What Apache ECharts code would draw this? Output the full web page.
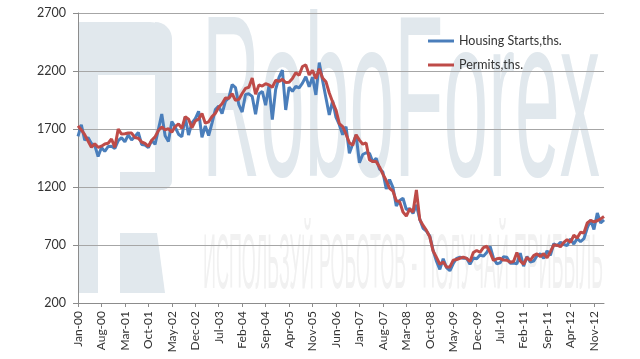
<!DOCTYPE html>
<html>
<head>
<meta charset="utf-8">
<script src="https://cdn.jsdelivr.net/npm/echarts@6/dist/echarts.min.js"></script>
<style>
html,body{margin:0;padding:0;background:#fff;}
#chart{width:640px;height:359px;}
</style>
</head>
<body>
<div id="chart"></div>
<script>
// ---- data ----
const monthNames = ['Jan','Feb','Mar','Apr','May','Jun','Jul','Aug','Sep','Oct','Nov','Dec'];
const startYear = 2000;
const housingStarts = [
 1636,1737,1604,1626,1575,1559,1463,1541,1507,1549,1551,1532,
 1600,1625,1590,1649,1605,1636,1670,1567,1562,1540,1602,1568,
 1698,1829,1642,1592,1764,1717,1655,1633,1804,1648,1753,1788,
 1853,1629,1726,1643,1751,1867,1897,1833,1939,1967,2083,2057,
 1911,1846,1998,2003,1981,1828,2002,2024,1905,2072,1782,2042,
 2144,2207,1864,2061,2025,2068,2054,2095,2151,2065,2147,1994,
 2273,2119,1969,1821,1942,1802,1737,1650,1720,1491,1570,1649,
 1409,1480,1495,1490,1415,1448,1354,1330,1183,1264,1197,1037,
 1084,1103,1005,1013,973,1046,923,844,820,777,652,560,
 490,582,505,478,540,585,594,586,585,534,588,581,
 614,604,636,687,588,539,546,599,594,543,545,539,
 630,517,600,554,561,608,623,585,650,610,711,694,
 723,704,695,753,708,757,728,754,847,915,833,976,
 890,917
];
const permits = [
 1727,1692,1651,1597,1543,1572,1542,1552,1570,1577,1614,1542,
 1699,1656,1659,1666,1665,1626,1620,1588,1576,1551,1603,1632,
 1687,1718,1693,1703,1671,1721,1744,1705,1806,1785,1711,1769,
 1785,1834,1750,1762,1808,1835,1887,1918,1968,1965,2004,1947,
 1955,2006,2050,2060,2140,2000,2080,2070,2090,2080,2060,2120,
 2110,2128,2101,2103,2136,2185,2163,2239,2253,2166,2206,2134,
 2220,2140,2108,2010,1933,1864,1746,1721,1656,1581,1560,1650,
 1604,1569,1580,1433,1419,1419,1373,1310,1256,1188,1166,1081,
 1074,984,949,1011,984,1175,920,869,826,770,648,593,
 534,554,510,511,569,575,586,596,585,558,635,653,
 637,678,689,637,568,581,585,570,568,552,558,635,
 563,534,594,568,608,624,601,625,589,643,700,698,
 685,722,747,723,784,760,810,803,890,912,900,909,
 925,946
];
const seriesNames = ['Housing Starts,ths.','Permits,ths.'];
const yMin = 200, yMax = 2700, yStep = 500;
const labelEvery = 7;

const categories = [];
for (let i = 0; i < housingStarts.length; i++) {
  const y = startYear + Math.floor(i / 12);
  categories.push(monthNames[i % 12] + '-' + String(y % 100).padStart(2, '0'));
}

// ---- watermark helpers ----
function textWidth(text, font) {
  const c = document.createElement('canvas').getContext('2d');
  c.font = font;
  return c.measureText(text).width;
}
const wmFont1 = '230px "Liberation Sans"';
const wmText1 = 'RoboForex';
const wmScale1 = 398 / textWidth(wmText1, wmFont1);
const wmFont2 = '77px "Liberation Sans"';
const wmText2 = 'ИСПОЛЬЗУЙ РОБОТОВ - ПОЛУЧАЙ ПРИБЫЛЬ';
const wmScale2 = 400 / textWidth(wmText2, wmFont2);
const wmColor = '#e1e8ed';

const chart = echarts.init(document.getElementById('chart'), null, {renderer: 'canvas'});
const grey = '#8c8c8c';
const txt = '#333333';
const font = 'Lato';

chart.setOption({
  animation: false,
  backgroundColor: '#ffffff',
  textStyle: {fontFamily: font},
  grid: {left: 78, right: 36, top: 13, bottom: 56, containLabel: false},
  graphic: [
    {type: 'rect', z: -10, shape: {x: 78, y: 22, width: 20, height: 271}, style: {fill: wmColor}},
    {type: 'rect', z: -10, shape: {x: 78, y: 22, width: 94, height: 53, r: [0, 22, 0, 0]}, style: {fill: wmColor}},
    {type: 'rect', z: -10, shape: {x: 155, y: 22, width: 17, height: 168, r: [0, 22, 10, 0]}, style: {fill: wmColor}},
    {type: 'rect', z: -10, shape: {x: 120, y: 172, width: 52, height: 18, r: [0, 0, 10, 0]}, style: {fill: wmColor}},
    {type: 'polygon', z: -10, shape: {points: [[120, 233], [157, 233], [165, 293], [120, 293]]}, style: {fill: wmColor}},
    {type: 'text', z: -10, x: 202, y: -2, scaleX: wmScale1, scaleY: 1,
      style: {text: wmText1, font: wmFont1, fill: wmColor, align: 'left', verticalAlign: 'top'}},
    {type: 'text', z: -10, x: 203, y: 228, scaleX: wmScale2, scaleY: 1,
      style: {text: wmText2, font: wmFont2, fill: '#f1f1f1', align: 'left', verticalAlign: 'top'}}
  ],
  legend: [
    {data: [seriesNames[0]], left: 428, top: 34, padding: 0, icon: 'rect', itemWidth: 26, itemHeight: 3,
      textStyle: {fontFamily: font, fontSize: 12.5, color: txt, lineHeight: 14}},
    {data: [seriesNames[1]], left: 428, top: 58, padding: 0, icon: 'rect', itemWidth: 26, itemHeight: 3,
      textStyle: {fontFamily: font, fontSize: 12.5, color: txt, lineHeight: 14}}
  ],
  xAxis: {
    type: 'category',
    data: categories,
    boundaryGap: false,
    axisLine: {show: true, lineStyle: {color: grey, width: 1}},
    axisTick: {show: true, interval: labelEvery - 1, length: 4, lineStyle: {color: grey}},
    axisLabel: {interval: labelEvery - 1, rotate: 90, margin: 8, fontFamily: font, fontSize: 12, color: txt},
    splitLine: {show: false}
  },
  yAxis: {
    type: 'value',
    min: yMin, max: yMax, interval: yStep,
    axisLine: {show: true, lineStyle: {color: grey, width: 1}},
    axisTick: {show: true, length: 5, lineStyle: {color: grey}},
    axisLabel: {margin: 12, fontFamily: font, fontSize: 12.5, color: txt, formatter: v => String(v)},
    splitLine: {show: true, lineStyle: {color: '#a6a6a6', width: 1}}
  },
  series: [
    {name: seriesNames[0], type: 'line', data: housingStarts, symbol: 'none', smooth: false,
      itemStyle: {color: '#4a7ebb'}, lineStyle: {color: '#4a7ebb', width: 3}, z: 3},
    {name: seriesNames[1], type: 'line', data: permits, symbol: 'none', smooth: false,
      itemStyle: {color: '#be4b48'}, lineStyle: {color: '#be4b48', width: 3}, z: 4}
  ]
});
</script>
</body>
</html>
